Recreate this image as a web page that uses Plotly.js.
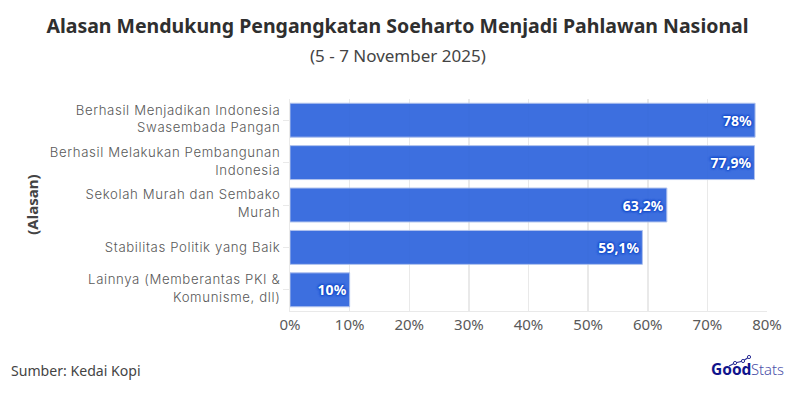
<!DOCTYPE html>
<html><head><meta charset="utf-8">
<script src="https://cdn.plot.ly/plotly-3.0.1.min.js"></script>
<style>html,body{margin:0;padding:0;background:#fff}
.ytick text{letter-spacing:0.62px}</style></head>
<body><div id="chart" style="width:795px;height:400px"></div>
<script>
const categories = [
  "Berhasil Menjadikan Indonesia<br>Swasembada Pangan",
  "Berhasil Melakukan Pembangunan<br>Indonesia",
  "Sekolah Murah dan Sembako<br>Murah",
  "Stabilitas Politik yang Baik",
  "Lainnya (Memberantas PKI &<br>Komunisme, dll)"
];
const values = [78, 77.9, 63.2, 59.1, 10];
const valueLabels = ["78%", "77,9%", "63,2%", "59,1%", "10%"];
const xTicks = [0,10,20,30,40,50,60,70,80];
const xTickLabels = xTicks.map(v => v + "%");
const FONT = "Noto Sans, sans-serif";
const TICKFONT = "Inter, Noto Sans, sans-serif";

const W = 795, H = 400, L = 289.5, R = 767, T = 99, B = 311;
const px = x => (x - L) / (R - L);
const py = y => 1 - (y - T) / (B - T);

function text(str, x, y, size, color, anchor, extra) {
  return Object.assign({text: str, xref: "paper", yref: "paper", x: px(x), y: py(y),
    xanchor: anchor || "center", yanchor: "middle", showarrow: false,
    font: Object.assign({family: FONT, size: size, color: color}, (extra || {}).fontExtra || {})},
    extra && extra.textangle ? {textangle: extra.textangle} : {});
}

const dot = (x, y) => ({type: "circle", xref: "paper", yref: "paper", layer: "above",
  x0: px(x - 1.6), x1: px(x + 1.6), y0: py(y + 1.6), y1: py(y - 1.6),
  line: {color: "#2a2e96", width: 1}, fillcolor: "#ffffff"});

Plotly.newPlot("chart", [{
  type: "bar", orientation: "h",
  y: categories, x: values, text: valueLabels,
  textposition: "inside", insidetextanchor: "end", textangle: 0, constraintext: "none",
  insidetextfont: {family: FONT, size: 14, color: "#ffffff", weight: 700,
    shadow: "0 0 2px #0f46c8, 0 0 2px #0f46c8, 0 0 3px #0f46c8, 0 0 3px #0f46c8"},
  marker: {color: "#2f65dd", opacity: 0.93, line: {color: "#a9bdec", width: 1}},
  width: 0.8, hoverinfo: "skip"
}], {
  width: W, height: H,
  paper_bgcolor: "#fff", plot_bgcolor: "#fff",
  margin: {l: L, r: W - R, t: T, b: H - B},
  showlegend: false,
  title: {text: "<b>Alasan Mendukung Pengangkatan Soeharto Menjadi Pahlawan Nasional</b>",
    font: {family: FONT, size: 19.5, color: "#2f2f2f"},
    x: 0.5, xanchor: "center", xref: "container", y: 0.935, yanchor: "middle"},
  xaxis: {range: [0, 80], tickvals: xTicks, ticktext: xTickLabels,
    showgrid: true, gridcolor: "#e9e9e9", gridwidth: 1.5, zeroline: false,
    showline: true, linecolor: "#e9e9e9", linewidth: 1, ticks: "", ticklen: 0,
    tickfont: {family: FONT, size: 15, color: "#595959"}, fixedrange: true},
  yaxis: {autorange: "reversed", showgrid: false, zeroline: false, showline: true,
    linecolor: "#e9e9e9", ticks: "outside", ticklen: 6, tickcolor: "#e9e9e9",
    tickfont: {family: TICKFONT, size: 13.2, color: "#595959", weight: 300},
    title: {text: ""}, fixedrange: true},
  annotations: [
    text("(5 - 7 November 2025)", 397.5, 55, 17, "#444444"),
    text("<b>(Alasan)</b>", 31, 205, 15, "#444444", "center", {textangle: -90}),
    text("Sumber: Kedai Kopi", 8, 370, 14.1, "#444444", "left"),
    text("<b>Good</b>", 753, 369, 15.5, "#10148c", "right"),
    text("Stats", 749, 369, 14.8, "#4a4fa8", "left", {fontExtra: {weight: 300}})
  ],
  shapes: [
    {type: "path", xref: "paper", yref: "paper", layer: "above",
     path: "M " + [[729, 366], [735, 363], [743, 361], [749, 357]]
       .map(p => px(p[0]) + "," + py(p[1])).join(" L "),
     line: {color: "#2a2e96", width: 1.2}, fillcolor: "rgba(0,0,0,0)"},
    dot(735, 363), dot(743, 361), dot(749, 357)
  ]
}, {staticPlot: true, displayModeBar: false}).then(gd => {
  // tighten the line spacing of the two-line category labels, as in the reference
  gd.querySelectorAll(".ytick text").forEach(t => {
    const lines = t.querySelectorAll("tspan.line");
    if (lines.length === 2) {
      lines[0].setAttribute("dy", "-0.12em");
      lines[1].setAttribute("dy", "1.22em");
    }
  });
});
</script></body></html>
